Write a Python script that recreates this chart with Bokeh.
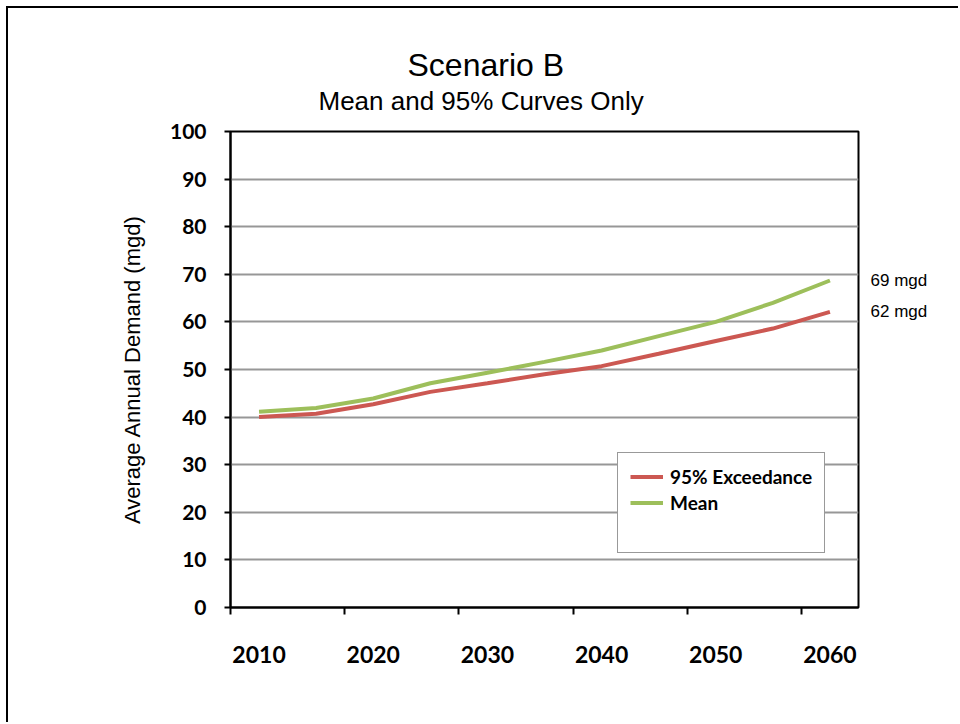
from bokeh.plotting import figure
from bokeh.models import (Range1d, FixedTicker, Legend, LegendItem, Title, LinearAxis, ColumnDataSource)
from bokeh.layouts import column
from bokeh.embed import file_html
from bokeh.resources import INLINE

years = [2010, 2015, 2020, 2025, 2030, 2035, 2040, 2045, 2050, 2055, 2060]
exceed95 = [40.0, 40.7, 42.7, 45.3, 47.1, 49.0, 50.7, 53.3, 56.0, 58.6, 62.1]
mean = [41.1, 41.9, 43.9, 47.1, 49.3, 51.6, 54.0, 57.0, 60.0, 64.0, 68.7]
label_years = [2010, 2020, 2030, 2040, 2050, 2060]
y_ticks = [0, 10, 20, 30, 40, 50, 60, 70, 80, 90, 100]
title_text = "Scenario B"
subtitle_text = "Mean and 95% Curves Only"
y_label = "Average Annual Demand (mgd)"
names = ["95% Exceedance", "Mean"]

RED = "#CC5852"
GREEN = "#9DBF5B"

half = (years[1] - years[0]) / 2.0
boundaries = [y - half for y in label_years]

W, H = 950, 714
p = figure(width=W, height=H, output_backend="svg", toolbar_location=None,
           title_location=None,
           x_range=Range1d(years[0] - half, years[-1] + half),
           y_range=Range1d(0, 100),
           min_border_left=222, min_border_top=123,
           min_border_right=W - 850, min_border_bottom=H - 599)
p.background_fill_color = "white"
p.border_fill_color = "white"
p.outline_line_color = "black"
p.outline_line_width = 2

src = ColumnDataSource(dict(x=years, a=exceed95, b=mean))
r_red = p.line("x", "a", source=src, line_color=RED, line_width=4)
r_green = p.line("x", "b", source=src, line_color=GREEN, line_width=4)
r_dummy = p.line(x=[], y=[], line_alpha=0)

# x axis
xa = p.xaxis[0]
xa.ticker = FixedTicker(ticks=label_years, minor_ticks=boundaries)
xa.major_tick_line_color = None
xa.major_tick_out = 0
xa.major_tick_in = 0
xa.minor_tick_out = 7
xa.minor_tick_in = 0
xa.minor_tick_line_color = "black"
xa.minor_tick_line_width = 2
xa.axis_line_color = "black"
xa.axis_line_width = 2
xa.major_label_text_font = "Lato"
xa.major_label_text_font_style = "bold"
xa.major_label_text_font_size = "23px"
xa.major_label_text_color = "black"
xa.major_label_standoff = 31

# y axis
ya = p.yaxis[0]
ya.ticker = FixedTicker(ticks=y_ticks, minor_ticks=[])
ya.major_tick_out = 6
ya.major_tick_in = 0
ya.major_tick_line_color = "black"
ya.major_tick_line_width = 2
ya.axis_line_color = "black"
ya.axis_line_width = 2
ya.major_label_text_font = "Lato"
ya.major_label_text_font_style = "bold"
ya.major_label_text_font_size = "21px"
ya.major_label_text_color = "black"
ya.major_label_standoff = 18
ya.axis_label = y_label
ya.axis_label_text_font = "Liberation Sans"
ya.axis_label_text_font_style = "normal"
ya.axis_label_text_font_size = "22px"
ya.axis_label_text_color = "black"
ya.axis_label_standoff = 22

# end-value labels as a right axis
ends = [mean[-1], exceed95[-1]]
ra = LinearAxis(ticker=FixedTicker(ticks=ends, minor_ticks=[]),
                major_label_overrides={v: f"{round(v)} mgd" for v in ends})
ra.axis_line_color = None
ra.major_tick_line_color = None
ra.major_tick_out = 0
ra.major_tick_in = 0
ra.major_label_standoff = 12
ra.major_label_text_font = "Liberation Sans"
ra.major_label_text_font_size = "17px"
ra.major_label_text_color = "black"
p.add_layout(ra, "right")

p.xgrid.grid_line_color = None
p.ygrid.ticker = FixedTicker(ticks=y_ticks)
p.ygrid.grid_line_color = "#979797"
p.ygrid.grid_line_width = 2

# titles (first added sits nearest the frame)
p.add_layout(Title(text=subtitle_text, align="left", offset=88, standoff=31,
                   text_line_height=1.0,
                   text_font="Liberation Sans", text_font_style="normal",
                   text_font_size="26px", text_color="black"), "above")
p.add_layout(Title(text=title_text, align="left", offset=177, standoff=-28,
                   text_line_height=1.0,
                   text_font="Liberation Sans", text_font_style="normal",
                   text_font_size="32px", text_color="black"), "above")

legend = Legend(items=[LegendItem(label=names[0], renderers=[r_red]),
                       LegendItem(label=names[1], renderers=[r_green]),
                       LegendItem(label=" ", renderers=[r_dummy])],
                location=(387, 54), orientation="vertical")
legend.border_line_color = "#333333"
legend.border_line_width = 1
legend.background_fill_color = "white"
legend.background_fill_alpha = 1
legend.padding = 12
legend.spacing = 3
legend.margin = 0
legend.label_height = 23
legend.glyph_height = 23
legend.glyph_width = 33
legend.label_standoff = 7
legend.label_text_font = "Lato"
legend.label_text_font_style = "bold"
legend.label_text_font_size = "19px"
legend.label_text_color = "black"
legend.label_text_baseline = "middle"
p.add_layout(legend, "center")

page = column(p, styles={"margin": "6px 0 0 6px",
                         "border-left": "2px solid black", "border-top": "2px solid black"})

open("out.html", "w").write(file_html(page, INLINE))
